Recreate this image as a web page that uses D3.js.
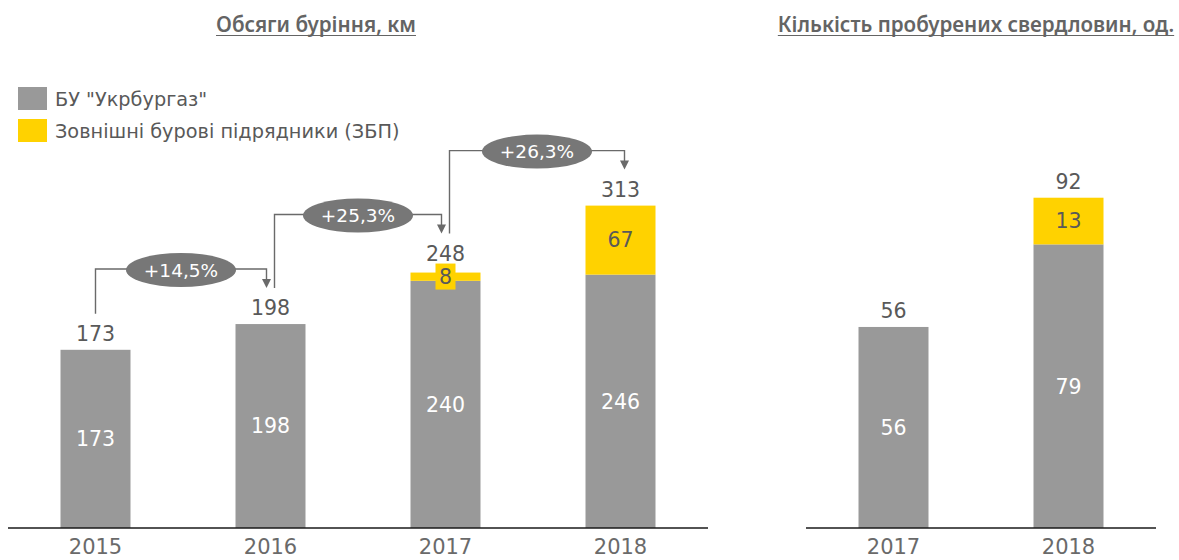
<!DOCTYPE html>
<html>
<head>
<meta charset="utf-8">
<script src="https://cdn.jsdelivr.net/npm/d3@7"></script>
<style>
  body { margin: 0; background: #fff; }
</style>
</head>
<body>
<div id="chart"></div>
<script>
"use strict";

// drilling volumes, km
const years = ["2015", "2016", "2017", "2018"];
const ownDrilling = [173, 198, 240, 246];
const contractors = [0, 0, 8, 67];
const totals = [173, 198, 248, 313];
const growthLabels = ["+14,5%", "+25,3%", "+26,3%"];

// number of wells drilled
const wellYears = ["2017", "2018"];
const ownWells = [56, 79];
const contractorWells = [0, 13];
const wellTotals = [56, 92];

const legendLabels = ['БУ "Укрбургаз"', "Зовнішні бурові підрядники (ЗБП)"];

const FONT = "DejaVu Sans";
const msm = {
    width: 1179,
    height: 560,
    baseline: 528
}
const colors = {
    gray: "#999999",
    yellow: "#FFD200",
    text: "#595959",
    bubble: "#777777",
    arrow: "#6a6a6a",
    axis: "#1a1a1a"
}

let svg = d3.select("#chart").append("svg")
    .attr("width", msm.width)
    .attr("height", msm.height);

// titles with underline
function makeTitle(text, cx) {
    let t = svg.append("text")
        .attr("x", cx)
        .attr("y", 32)
        .attr("text-anchor", "middle")
        .style("font-family", "Noto Sans")
        .style("font-weight", 600)
        .style("font-size", "20.6px")
        .attr("fill", "#646464")
        .text(text);
    let w = t.node().getComputedTextLength();
    svg.append("line")
        .attr("x1", cx - w / 2).attr("x2", cx + w / 2)
        .attr("y1", 35.5).attr("y2", 35.5)
        .attr("stroke", "#646464")
        .attr("stroke-width", 1.2);
}
makeTitle("Обсяги буріння, км", 316);
makeTitle("Кількість пробурених свердловин, од.", 976);

// legend
let legend = svg.append("g");
legend.selectAll("rect")
    .data(legendLabels)
    .enter()
    .append("rect")
    .attr("x", 18)
    .attr("y", (d, i) => 87 + i * 32)
    .attr("width", 29)
    .attr("height", 23)
    .attr("fill", (d, i) => i == 0 ? colors.gray : colors.yellow);
legend.selectAll("text")
    .data(legendLabels)
    .enter()
    .append("text")
    .attr("x", 55)
    .attr("y", (d, i) => 106 + i * 32)
    .style("font-family", FONT)
    .style("font-size", "19.3px")
    .attr("fill", colors.text)
    .text((d) => d);

// draw one stacked bar panel
function drawPanel(cats, own, ext, tot, x0, x1, yMax, yTop) {
    let xScale = d3.scaleBand()
        .domain(cats)
        .range([x0, x1])
        .paddingInner(0.6)
        .paddingOuter(0.3);
    let yScale = d3.scaleLinear()
        .domain([0, yMax])
        .range([msm.baseline, yTop]);

    let rows = cats.map((c, i) => ({ cat: c, own: own[i], ext: ext[i], total: tot[i] }));
    let g = svg.append("g");

    // own segment
    g.selectAll(".own")
        .data(rows)
        .enter()
        .append("rect")
        .attr("x", (d) => xScale(d.cat))
        .attr("width", xScale.bandwidth())
        .attr("y", (d) => yScale(d.own))
        .attr("height", (d) => msm.baseline - yScale(d.own))
        .attr("fill", colors.gray);

    // contractor segment
    let extRows = rows.filter((d) => d.ext > 0);
    g.selectAll(".ext")
        .data(extRows)
        .enter()
        .append("rect")
        .attr("x", (d) => xScale(d.cat))
        .attr("width", xScale.bandwidth())
        .attr("y", (d) => yScale(d.own + d.ext))
        .attr("height", (d) => yScale(d.own) - yScale(d.own + d.ext))
        .attr("fill", colors.yellow);

    // white labels in own segment
    g.selectAll(".ownLabel")
        .data(rows)
        .enter()
        .append("text")
        .attr("x", (d) => xScale(d.cat) + xScale.bandwidth() / 2)
        .attr("y", (d) => (msm.baseline + yScale(d.own)) / 2)
        .attr("dy", "0.36em")
        .attr("text-anchor", "middle")
        .style("font-family", FONT)
        .style("font-size", "20.5px")
        .attr("fill", "#fff")
        .text((d) => d.own);

    // labels in contractor segment; small segments get a yellow box
    extRows.forEach((d) => {
        let cx = xScale(d.cat) + xScale.bandwidth() / 2;
        let segH = yScale(d.own) - yScale(d.own + d.ext);
        let cy = yScale(d.own) - segH / 2;
        if (segH < 20) {
            let top = yScale(d.total) - 9;
            g.append("rect")
                .attr("x", cx - 10).attr("width", 20)
                .attr("y", top).attr("height", 26)
                .attr("fill", colors.yellow);
            cy = top + 13;
        }
        g.append("text")
            .attr("x", cx)
            .attr("y", cy)
            .attr("dy", "0.36em")
            .attr("text-anchor", "middle")
            .style("font-family", FONT)
            .style("font-size", "20.5px")
            .attr("fill", colors.text)
            .text(d.ext);
    });

    // total labels above bars
    let labelBase = (d) => yScale(d.total) - (d.ext > 0 && yScale(d.own) - yScale(d.total) < 20 ? 12 : 9);
    g.selectAll(".total")
        .data(rows)
        .enter()
        .append("text")
        .attr("x", (d) => xScale(d.cat) + xScale.bandwidth() / 2)
        .attr("y", labelBase)
        .attr("text-anchor", "middle")
        .style("font-family", FONT)
        .style("font-size", "20.5px")
        .attr("fill", colors.text)
        .text((d) => d.total);

    // baseline and category axis
    g.append("line")
        .attr("x1", x0).attr("x2", x1)
        .attr("y1", msm.baseline).attr("y2", msm.baseline)
        .attr("stroke", colors.axis)
        .attr("stroke-width", 1.6);
    let axis = g.append("g")
        .attr("transform", "translate(0," + msm.baseline + ")")
        .call(d3.axisBottom(xScale).tickSize(0).tickPadding(11));
    axis.select(".domain").remove();
    axis.selectAll("text")
        .style("font-family", FONT)
        .style("font-size", "21px")
        .attr("fill", "#6a6a6a");

    return { xScale: xScale, yScale: yScale, rows: rows, labelBase: labelBase };
}

let left = drawPanel(years, ownDrilling, contractors, totals, 8, 708, 350, 167.5);
drawPanel(wellYears, ownWells, contractorWells, wellTotals, 806, 1156, 100, 169);

// growth arrows with bubbles
let ann = svg.append("g");
growthLabels.forEach((label, i) => {
    let xs = left.xScale;
    let from = left.rows[i], to = left.rows[i + 1];
    let fx = xs(from.cat) + xs.bandwidth() / 2 + (i == 0 ? 0 : 4);
    let tx = xs(to.cat) + xs.bandwidth() / 2 + (i == growthLabels.length - 1 ? 4 : -4);
    let fy = left.labelBase(from) - 27;
    let ty = left.labelBase(to) - 27;
    let hy = left.labelBase(to) - 46;
    let bx = (fx + tx) / 2;

    ann.append("path")
        .attr("d", "M" + fx + "," + fy + "V" + hy + "H" + tx + "V" + (ty - 8))
        .attr("fill", "none")
        .attr("stroke", colors.arrow)
        .attr("stroke-width", 1.4);
    ann.append("path")
        .attr("d", "M" + (tx - 4.5) + "," + (ty - 9) + "L" + (tx + 4.5) + "," + (ty - 9) + "L" + tx + "," + ty + "Z")
        .attr("fill", colors.arrow);
    ann.append("ellipse")
        .attr("cx", bx)
        .attr("cy", hy + 1)
        .attr("rx", 55)
        .attr("ry", 17)
        .attr("fill", colors.bubble);
    ann.append("text")
        .attr("x", bx)
        .attr("y", hy + 1)
        .attr("dy", "0.36em")
        .attr("text-anchor", "middle")
        .style("font-family", FONT)
        .style("font-size", "18.5px")
        .attr("fill", "#fff")
        .text(label);
});
</script>
</body>
</html>
